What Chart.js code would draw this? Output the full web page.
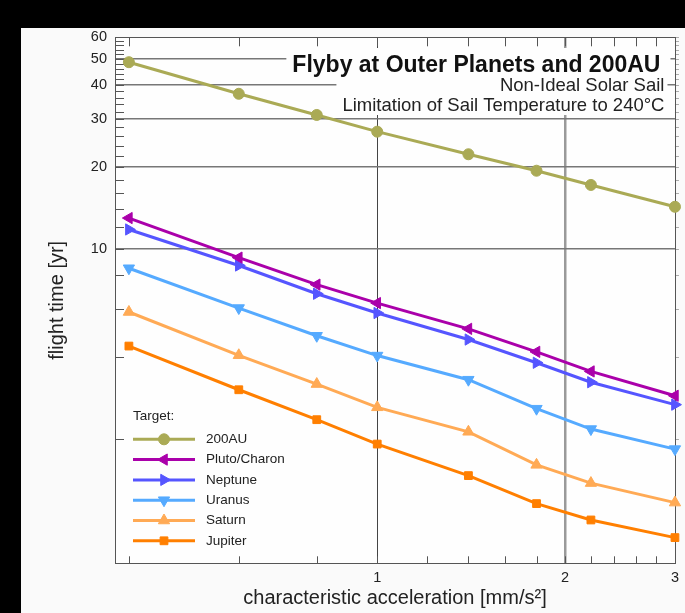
<!DOCTYPE html>
<html>
<head>
<meta charset="utf-8">
<script src="https://cdn.jsdelivr.net/npm/chart.js@4.4.0/dist/chart.umd.min.js"></script>
<style>
  html, body { margin:0; padding:0; background:#000; }
  canvas { display:block; }
</style>
</head>
<body>
<canvas id="chart" width="685" height="613"></canvas>
<script>
const FONT = '"Liberation Sans", Arial, Helvetica, sans-serif';

// flight time [yr], one array per target
const accel   = [0.4, 0.6, 0.8, 1.0, 1.4, 1.8, 2.2, 3.0];
const au200   = [48.6, 37.2, 31.1, 27.0, 22.3, 19.4, 17.2, 14.3];
const pluto   = [13.0, 9.3, 7.4, 6.33, 5.09, 4.19, 3.55, 2.89];
const neptune = [11.8, 8.7, 6.85, 5.82, 4.65, 3.82, 3.24, 2.68];
const uranus  = [8.5, 6.07, 4.8, 4.06, 3.31, 2.59, 2.18, 1.84];
const saturn  = [5.87, 4.07, 3.19, 2.62, 2.13, 1.61, 1.38, 1.17];
const jupiter = [4.4, 3.04, 2.36, 1.92, 1.47, 1.16, 1.01, 0.87];

const seriesNames  = ['200AU', 'Pluto/Charon', 'Neptune', 'Uranus', 'Saturn', 'Jupiter'];
const seriesValues = [au200, pluto, neptune, uranus, saturn, jupiter];

// axis ticks
const xTicks  = [0.4, 0.6, 0.8, 1, 1.2, 1.4, 1.6, 1.8, 2, 2.2, 2.4, 2.6, 2.8, 3];
const xLabels = [1, 2, 3];
const yTicks  = [2, 4, 6, 8, 10, 12, 14, 16, 18, 20, 22, 24, 26, 28, 30, 32, 34, 36, 38, 40,
                 42, 44, 46, 48, 50, 52, 54, 56, 58, 60];
const yLabels = [10, 20, 30, 40, 50, 60];
const yGrid   = [10, 20, 30, 40, 50];

// styles
const colors  = ['#aaaa55', '#aa00aa', '#5555ff', '#55aaff', '#ffaa55', '#ff7f00'];
const markers = [
  {style:'circle',   rot:0,   r:5.5},
  {style:'triangle', rot:270, r:6.5},
  {style:'triangle', rot:90,  r:6.5},
  {style:'triangle', rot:180, r:6.5},
  {style:'triangle', rot:0,   r:6.5},
  {style:'rect',     rot:0,   r:5.5}
];

function drawMarker(ctx, m, x, y, color){
  ctx.save();
  ctx.fillStyle = color; ctx.strokeStyle = color; ctx.lineWidth = 1;
  ctx.beginPath();
  if(m.style === 'circle'){
    ctx.arc(x, y, m.r, 0, Math.PI*2);
  } else if(m.style === 'rect'){
    const s = Math.SQRT1_2*m.r;
    ctx.rect(x-s, y-s, 2*s, 2*s);
  } else {
    let a = m.rot*Math.PI/180;
    for(let k=0;k<3;k++){
      const px = x + Math.sin(a)*m.r, py = y - Math.cos(a)*m.r;
      k ? ctx.lineTo(px, py) : ctx.moveTo(px, py);
      a += Math.PI*2/3;
    }
    ctx.closePath();
  }
  ctx.fill(); ctx.stroke();
  ctx.restore();
}

const frame = {
  id: 'frame',
  beforeDraw(chart){
    const {ctx, chartArea:ca} = chart;
    ctx.save();
    ctx.fillStyle = '#000'; ctx.fillRect(0, 0, chart.width, chart.height);
    ctx.fillStyle = '#fafafa'; ctx.fillRect(21, 28, chart.width-21, chart.height-28);
    ctx.fillStyle = '#fefefe'; ctx.fillRect(ca.left, ca.top, ca.right-ca.left, ca.bottom-ca.top);
    ctx.restore();
  },
  beforeDatasetsDraw(chart){
    const {ctx, chartArea:ca, scales} = chart;
    ctx.save();
    // inward tick marks on all four sides
    ctx.strokeStyle = '#555'; ctx.lineWidth = 1;
    ctx.beginPath();
    for(const v of yTicks){
      const y = Math.round(scales.y.getPixelForValue(v)) + 0.5;
      ctx.moveTo(ca.left, y); ctx.lineTo(ca.left+9, y);
    }
    for(const v of xTicks){
      const x = Math.round(scales.x.getPixelForValue(v)) + 0.5;
      ctx.moveTo(x, ca.top); ctx.lineTo(x, ca.top+9);
      ctx.moveTo(x, ca.bottom); ctx.lineTo(x, ca.bottom-7);
    }
    ctx.stroke();
    ctx.strokeStyle = '#aaa';
    ctx.beginPath();
    for(const v of yTicks){
      const y = Math.round(scales.y.getPixelForValue(v)) + 0.5;
      ctx.moveTo(ca.right, y); ctx.lineTo(ca.right+4, y);
    }
    ctx.stroke();
    ctx.strokeStyle = '#555';
    ctx.strokeRect(Math.round(ca.left)+0.5, Math.round(ca.top)+0.5, Math.round(ca.right-ca.left), Math.round(ca.bottom-ca.top));

    // title block with white backing over the grid
    ctx.font = `bold 23px ${FONT}`;
    const tr = ca.right - 14.5;
    const tw = ctx.measureText('Flyby at Outer Planets and 200AU').width;
    ctx.fillStyle = '#fefefe';
    ctx.fillRect(tr - tw - 6, 48, tw + 16, 31);
    ctx.font = `18.5px ${FONT}`;
    const sr = ca.right - 10.5;
    const sub1 = 'Non-Ideal Solar Sail', sub2 = 'Limitation of Sail Temperature to 240°C';
    const sw = Math.max(ctx.measureText(sub1).width, ctx.measureText(sub2).width);
    ctx.fillRect(sr - sw - 6, 79, sw + 9, 36);

    ctx.textAlign = 'right'; ctx.textBaseline = 'alphabetic';
    ctx.fillStyle = '#111';
    ctx.font = `bold 23px ${FONT}`;
    ctx.fillText('Flyby at Outer Planets and 200AU', tr, 71.7);
    ctx.fillStyle = '#222';
    ctx.font = `18.5px ${FONT}`;
    ctx.fillText(sub1, sr, 90.7);
    ctx.fillText(sub2, sr, 110.7);
    ctx.restore();
  },
  afterDatasetsDraw(chart){
    const {ctx, chartArea:ca} = chart;
    const lx = ca.left + 18, top = ca.bottom - 147;
    ctx.save();
    ctx.font = `13.5px ${FONT}`;
    ctx.fillStyle = '#222'; ctx.textAlign = 'left'; ctx.textBaseline = 'middle';
    ctx.fillText('Target:', lx, top);
    seriesNames.forEach((name, i) => {
      const y = top + 23 + i*20.3;
      ctx.strokeStyle = colors[i]; ctx.lineWidth = 3;
      ctx.beginPath(); ctx.moveTo(lx, y); ctx.lineTo(lx+62, y); ctx.stroke();
      drawMarker(ctx, markers[i], lx+31, y, colors[i]);
      ctx.fillStyle = '#222';
      ctx.fillText(name, lx+73, y);
    });
    ctx.restore();
  }
};

const datasets = seriesNames.map((name, i) => ({
  label: name,
  data: accel.map((x, j) => ({x, y: seriesValues[i][j]})),
  borderColor: colors[i],
  backgroundColor: colors[i],
  borderWidth: 3,
  tension: 0,
  pointStyle: markers[i].style,
  pointRotation: markers[i].rot,
  pointRadius: markers[i].r,
  pointHoverRadius: markers[i].r,
  pointBorderWidth: 1,
  clip: false
}));

new Chart(document.getElementById('chart'), {
  type: 'line',
  data: { datasets },
  options: {
    responsive: false,
    animation: false,
    devicePixelRatio: 1,
    layout: { padding: { left: 0, right: 5.5, top: 37.3, bottom: 0 } },
    plugins: { legend: { display: false }, tooltip: { enabled: false } },
    scales: {
      x: {
        type: 'logarithmic', min: 0.38, max: 3,
        afterBuildTicks: s => { s.ticks = xTicks.map(v => ({value: v})); },
        afterFit: s => { s.height = 49.7; },
        border: { display: false },
        grid: {
          drawTicks: false,
          color: c => c.tick && c.tick.value === 1 ? '#444' : (c.tick && c.tick.value === 2 ? '#9a9a9a' : 'rgba(0,0,0,0)'),
          lineWidth: c => c.tick && c.tick.value === 2 ? 2.5 : 1
        },
        ticks: {
          autoSkip: false, maxRotation: 0, padding: 6, color: '#222',
          font: { family: FONT, size: 14.5 },
          callback: v => xLabels.includes(v) ? String(v) : ''
        },
        title: {
          display: true, text: 'characteristic acceleration [mm/s²]', color: '#222',
          font: { family: FONT, size: 20 }, padding: { top: 0, bottom: 2.5 }
        }
      },
      y: {
        type: 'logarithmic', min: 0.705, max: 60,
        afterBuildTicks: s => { s.ticks = yTicks.map(v => ({value: v})); },
        afterFit: s => { s.width = 115; },
        border: { display: false },
        grid: {
          drawTicks: false,
          color: c => c.tick && yGrid.includes(c.tick.value) ? '#777' : 'rgba(0,0,0,0)',
          lineWidth: 1.5
        },
        ticks: {
          autoSkip: false, padding: 8, color: '#222',
          font: { family: FONT, size: 14.5 },
          callback: v => yLabels.includes(v) ? String(v) : ''
        },
        title: {
          display: true, text: 'flight time [yr]', color: '#222',
          font: { family: FONT, size: 20 }, padding: { top: 45, bottom: 0 }
        }
      }
    }
  },
  plugins: [frame]
});
</script>
</body>
</html>
